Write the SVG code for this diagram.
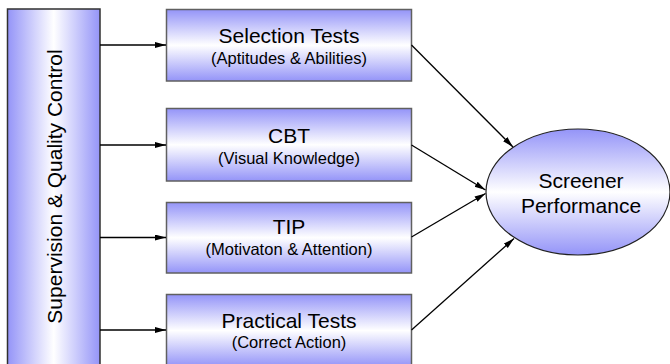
<svg xmlns="http://www.w3.org/2000/svg" width="670" height="364" viewBox="0 0 670 364">
  <defs>
    <!-- vertical fade: blue at top and bottom, white through the middle -->
    <linearGradient id="fadeV" x1="0" y1="0" x2="0" y2="1">
      <stop offset="0" stop-color="#9494f8"/>
      <stop offset="0.5" stop-color="#ffffff"/>
      <stop offset="1" stop-color="#9494f8"/>
    </linearGradient>
    <!-- horizontal fade for the tall side bar -->
    <linearGradient id="fadeH" x1="0" y1="0" x2="1" y2="0">
      <stop offset="0" stop-color="#9494f8"/>
      <stop offset="0.5" stop-color="#ffffff"/>
      <stop offset="1" stop-color="#9494f8"/>
    </linearGradient>
    <marker id="arrow" markerUnits="userSpaceOnUse" markerWidth="12" markerHeight="8" refX="11" refY="3" orient="auto">
      <path d="M0,0 L11,3 L0,6 z" fill="#000"/>
    </marker>
  </defs>
  <style>
    .box { fill: url(#fadeV); stroke: #606060; stroke-width: 1.5; }
    .bar { fill: url(#fadeH); stroke: #303030; stroke-width: 1.5; }
    .oval { fill: url(#fadeV); stroke: #202020; stroke-width: 1.2; }
    .title { font-family: "Liberation Sans", Arial, sans-serif; font-size: 21px; fill: #000; text-anchor: middle; }
    .sub { font-family: "Liberation Sans", Arial, sans-serif; font-size: 16.5px; fill: #000; text-anchor: middle; }
    .link { stroke: #000; stroke-width: 1.3; fill: none; marker-end: url(#arrow); }
  </style>

  <g id="supervision">
    <rect class="bar" x="7.5" y="9" width="92.5" height="362"/>
    <text class="title" transform="translate(61.5,186.5) rotate(-90)">Supervision &amp; Quality Control</text>
  </g>

  <g id="selection-tests">
    <rect class="box" x="166.5" y="9.5" width="245" height="71.5"/>
    <text class="title" x="289" y="43.3">Selection Tests</text>
    <text class="sub" x="289" y="63.5">(Aptitudes &amp; Abilities)</text>
  </g>

  <g id="cbt">
    <rect class="box" x="166.5" y="108.5" width="245" height="72.5"/>
    <text class="title" x="289" y="143.3">CBT</text>
    <text class="sub" x="289" y="164">(Visual Knowledge)</text>
  </g>

  <g id="tip">
    <rect class="box" x="166.5" y="202.5" width="245" height="70.5"/>
    <text class="title" x="289" y="234.3">TIP</text>
    <text class="sub" x="289" y="255">(Motivaton &amp; Attention)</text>
  </g>

  <g id="practical-tests">
    <rect class="box" x="166.5" y="294.5" width="245" height="72"/>
    <text class="title" x="289" y="327.7">Practical Tests</text>
    <text class="sub" x="289" y="348">(Correct Action)</text>
  </g>

  <g id="screener-performance">
    <ellipse class="oval" cx="578" cy="192" rx="92" ry="63"/>
    <text class="title" x="581" y="188.3">Screener</text>
    <text class="title" x="581" y="213.3">Performance</text>
  </g>

  <g id="connectors">
    <line class="link" x1="100" y1="45" x2="166" y2="45"/>
    <line class="link" x1="100" y1="145" x2="166" y2="145"/>
    <line class="link" x1="100" y1="237.5" x2="166" y2="237.5"/>
    <line class="link" x1="100" y1="330" x2="166" y2="330"/>
    <line class="link" x1="411.5" y1="45" x2="513" y2="147"/>
    <line class="link" x1="411.5" y1="145" x2="485.5" y2="190"/>
    <line class="link" x1="411.5" y1="237" x2="485.5" y2="193.5"/>
    <line class="link" x1="411.5" y1="330" x2="514" y2="238.5"/>
  </g>
</svg>
